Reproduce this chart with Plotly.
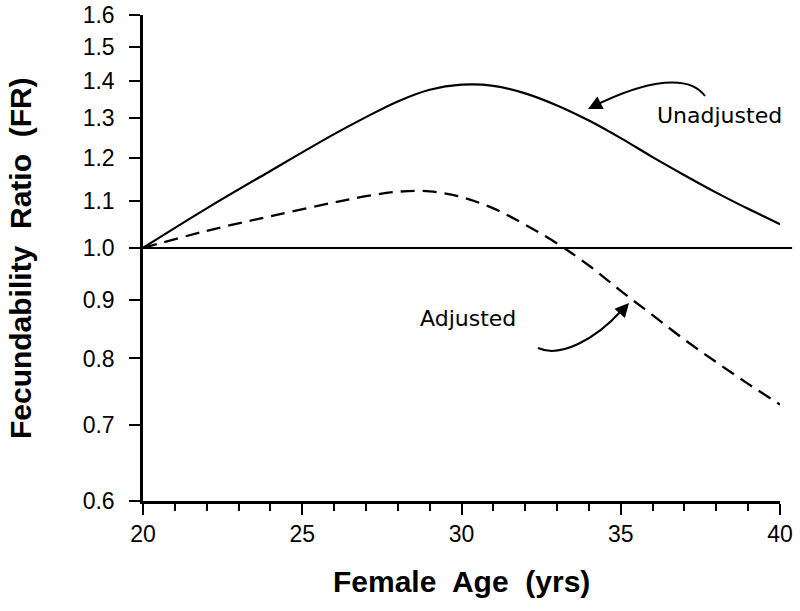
import plotly.graph_objects as go
import math

# Data
ages = [20, 22, 24, 26, 27, 28, 29, 30, 31, 32, 33, 34, 35, 36, 37, 38, 39, 40]
fr_unadj = [1.000, 1.083, 1.168, 1.258, 1.302, 1.344, 1.376, 1.390, 1.387, 1.366, 1.333, 1.293,
            1.248, 1.201, 1.158, 1.118, 1.082, 1.049]
fr_adj = [1.000, 1.035, 1.066, 1.096, 1.110, 1.120, 1.121, 1.108, 1.083, 1.048, 1.009, 0.965,
          0.917, 0.873, 0.831, 0.794, 0.760, 0.729]

y_ticks = [0.6, 0.7, 0.8, 0.9, 1.0, 1.1, 1.2, 1.3, 1.4, 1.5, 1.6]
y_ticktext = ["0.6", "0.7", "0.8", "0.9", "1.0", "1.1", "1.2", "1.3", "1.4", "1.5", "1.6"]
x_ticks = [20, 25, 30, 35, 40]
ref_value = 1.0

FONT = "Liberation Sans, Arial, sans-serif"

fig = go.Figure()
fig.add_trace(go.Scatter(x=ages, y=fr_unadj, mode="lines",
                         line=dict(color="black", width=2.2, shape="spline", smoothing=1.0),
                         name="Unadjusted", showlegend=False))
fig.add_trace(go.Scatter(x=ages, y=fr_adj, mode="lines",
                         line=dict(color="black", width=2.3, dash="14px,8px", shape="spline", smoothing=1.0),
                         name="Adjusted", showlegend=False))

# reference line at FR = 1.0
fig.add_shape(type="line", xref="paper", yref="y", x0=0, x1=1.019, y0=ref_value, y1=ref_value,
              line=dict(color="black", width=2))

# curved arrows
fig.add_shape(type="path", xref="paper", yref="paper",
              path="M 0.8823,0.8333 C 0.8587,0.8765 0.7959,0.8704 0.7049,0.8107",
              line=dict(color="black", width=2))
fig.add_annotation(xref="paper", yref="paper", x=0.6986, y=0.8066, ax=14, ay=-7,
                   text="", showarrow=True, arrowhead=2, arrowsize=1.4, arrowwidth=2, arrowcolor="black")
fig.add_shape(type="path", xref="paper", yref="paper",
              path="M 0.6201,0.3148 C 0.6546,0.2942 0.7096,0.3313 0.7520,0.3930",
              line=dict(color="black", width=2))
fig.add_annotation(xref="paper", yref="paper", x=0.7630, y=0.4074, ax=-9, ay=10,
                   text="", showarrow=True, arrowhead=2, arrowsize=1.4, arrowwidth=2, arrowcolor="black")

fig.add_annotation(xref="paper", yref="paper", x=0.9058, y=0.7922, text="Unadjusted", showarrow=False,
                   xanchor="center", yanchor="middle",
                   font=dict(family="DejaVu Sans", size=22, color="black"))
fig.add_annotation(xref="paper", yref="paper", x=0.5102, y=0.3765, text="Adjusted", showarrow=False,
                   xanchor="center", yanchor="middle",
                   font=dict(family="DejaVu Sans", size=22, color="black"))

# axis titles
fig.add_annotation(xref="paper", yref="paper", x=-0.193, y=0.50, text="<b>Fecundability  Ratio  (FR)</b>",
                   textangle=-90, showarrow=False, xanchor="center", yanchor="middle",
                   font=dict(family=FONT, size=30, color="black"))
fig.add_annotation(xref="paper", yref="paper", x=0.5, y=-0.165, text="<b>Female  Age  (yrs)</b>",
                   showarrow=False, xanchor="center", yanchor="middle",
                   font=dict(family=FONT, size=30, color="black"))

fig.update_xaxes(range=[20, 40], tickvals=x_ticks, ticks="outside", ticklen=11, tickwidth=2,
                 tickcolor="black", showline=True, linecolor="black", linewidth=2.5,
                 showgrid=False, zeroline=False, automargin=False,
                 minor=dict(dtick=1, ticks="outside", ticklen=7, tickwidth=2, tickcolor="black", showgrid=False),
                 tickfont=dict(family=FONT, size=23, color="black"))
fig.update_yaxes(type="log", range=[math.log10(0.6), math.log10(1.6)], tickvals=y_ticks, ticktext=y_ticktext,
                 ticks="outside", ticklen=11, tickwidth=2, tickcolor="black", automargin=False,
                 ticklabelstandoff=10,
                 showline=True, linecolor="black", linewidth=2.5, showgrid=False, zeroline=False,
                 tickfont=dict(family=FONT, size=23, color="black"))

fig.update_layout(width=800, height=611, margin=dict(l=143, r=20, t=15, b=110),
                  plot_bgcolor="white", paper_bgcolor="white", showlegend=False)

fig.write_html("out.html", config={"displayModeBar": False},
               post_script="document.body.style.margin='0';document.body.style.padding='0';"
                           "document.body.style.overflow='hidden';")
